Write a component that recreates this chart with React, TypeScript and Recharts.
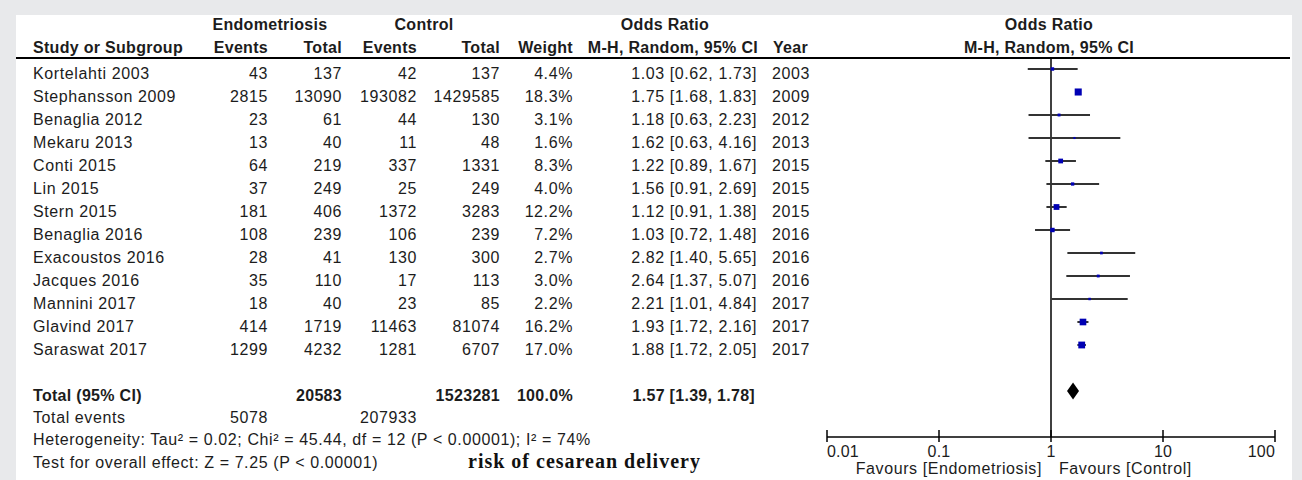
import React from 'react';
import {
  ScatterChart,
  Scatter,
  XAxis,
  YAxis,
  ErrorBar,
  ReferenceLine,
  ReferenceArea,
} from 'recharts';

if (typeof document !== 'undefined') {
  document.body.style.margin = '0';
  document.body.style.overflow = 'hidden';
}

const studies = [
  'Kortelahti 2003',
  'Stephansson 2009',
  'Benaglia 2012',
  'Mekaru 2013',
  'Conti 2015',
  'Lin 2015',
  'Stern 2015',
  'Benaglia 2016',
  'Exacoustos 2016',
  'Jacques 2016',
  'Mannini 2017',
  'Glavind 2017',
  'Saraswat 2017',
];
const endoEvents = [43, 2815, 23, 13, 64, 37, 181, 108, 28, 35, 18, 414, 1299];
const endoTotal = [137, 13090, 61, 40, 219, 249, 406, 239, 41, 110, 40, 1719, 4232];
const ctrlEvents = [42, 193082, 44, 11, 337, 25, 1372, 106, 130, 17, 23, 11463, 1281];
const ctrlTotal = [137, 1429585, 130, 48, 1331, 249, 3283, 239, 300, 113, 85, 81074, 6707];
const weights = [4.4, 18.3, 3.1, 1.6, 8.3, 4.0, 12.2, 7.2, 2.7, 3.0, 2.2, 16.2, 17.0];
const oddsRatio = [1.03, 1.75, 1.18, 1.62, 1.22, 1.56, 1.12, 1.03, 2.82, 2.64, 2.21, 1.93, 1.88];
const ciLow = [0.62, 1.68, 0.63, 0.63, 0.89, 0.91, 0.91, 0.72, 1.4, 1.37, 1.01, 1.72, 1.72];
const ciHigh = [1.73, 1.83, 2.23, 4.16, 1.67, 2.69, 1.38, 1.48, 5.65, 5.07, 4.84, 2.16, 2.05];
const years = [2003, 2009, 2012, 2013, 2015, 2015, 2015, 2016, 2016, 2016, 2017, 2017, 2017];

// pooled estimate: OR, lower, upper
const pooled = [1.57, 1.39, 1.78];
const totalParticipants = [20583, 1523281];
const totalEvents = [5078, 207933];
const xTicks = [0.01, 0.1, 1, 10, 100];

const TOTAL_ROW = 14;

const rows = studies.map((name, i) => ({
  name,
  row: i,
  or: oddsRatio[i],
  err: [oddsRatio[i] - ciLow[i], ciHigh[i] - oddsRatio[i]],
  weight: weights[i],
}));

const fmt = (v: number) => v.toFixed(2);

// text layout
const ROW_BASE = 78.5;
const ROW_H = 23;
const FONT = "'Liberation Sans', Arial, sans-serif";
const txt = { fontFamily: FONT, fontSize: 16, letterSpacing: 0.6, fill: '#1c1c1c' } as const;
const bold = { fontFamily: FONT, fontSize: 16, letterSpacing: 0.3, fontWeight: 700, fill: '#1c1c1c' } as const;

const Square = (props: any) => {
  const { cx, cy, payload } = props;
  const s = 1.65 * Math.sqrt(payload.weight);
  return <rect x={cx - s / 2} y={cy - s / 2} width={s} height={s} fill="#0000b4" />;
};

const Diamond = (props: any) => {
  const { x, y, width, height } = props;
  const pts = `${x},${y + height / 2} ${x + width / 2},${y} ${x + width},${y + height / 2} ${x + width / 2},${y + height}`;
  return <polygon points={pts} fill="#000" />;
};

const renderTick = (props: any) => {
  const { x, y, payload, index } = props;
  const anchor = index === 0 ? 'start' : index === xTicks.length - 1 ? 'end' : 'middle';
  return (
    <g>
      <line x1={x} x2={x} y1={y - 7} y2={y + 5} stroke="#000" strokeWidth={1.5} />
      <text x={x} y={y + 20} textAnchor={anchor} style={{ ...txt, letterSpacing: 0.2 }}>
        {String(payload.value)}
      </text>
    </g>
  );
};

const Table = () => {
  const y = (i: number) => ROW_BASE + ROW_H * i;
  return (
    <svg width={1302} height={480} style={{ position: 'absolute', left: 0, top: 0 }}>
      <rect x={0} y={0} width={1302} height={480} fill="#e8e9eb" />
      <rect x={16} y={15} width={1276} height={465} fill="#ffffff" />
      <line x1={16} x2={1290} y1={58} y2={58} stroke="#000" strokeWidth={2} />

      {/* header */}
      <text x={270} y={30} textAnchor="middle" style={bold}>Endometriosis</text>
      <text x={424} y={30} textAnchor="middle" style={bold}>Control</text>
      <text x={665} y={30} textAnchor="middle" style={bold}>Odds Ratio</text>
      <text x={1049} y={30} textAnchor="middle" style={bold}>Odds Ratio</text>
      <text x={33} y={53} style={bold}>Study or Subgroup</text>
      <text x={268} y={53} textAnchor="end" style={bold}>Events</text>
      <text x={342} y={53} textAnchor="end" style={bold}>Total</text>
      <text x={417} y={53} textAnchor="end" style={bold}>Events</text>
      <text x={500} y={53} textAnchor="end" style={bold}>Total</text>
      <text x={573} y={53} textAnchor="end" style={bold}>Weight</text>
      <text x={758} y={53} textAnchor="end" style={bold}>M-H, Random, 95% CI</text>
      <text x={773} y={53} style={bold}>Year</text>
      <text x={1049} y={53} textAnchor="middle" style={bold}>M-H, Random, 95% CI</text>

      {/* studies */}
      {studies.map((s, i) => (
        <g key={s}>
          <text x={33} y={y(i)} style={txt}>{s}</text>
          <text x={268} y={y(i)} textAnchor="end" style={txt}>{endoEvents[i]}</text>
          <text x={342} y={y(i)} textAnchor="end" style={txt}>{endoTotal[i]}</text>
          <text x={417} y={y(i)} textAnchor="end" style={txt}>{ctrlEvents[i]}</text>
          <text x={500} y={y(i)} textAnchor="end" style={txt}>{ctrlTotal[i]}</text>
          <text x={573} y={y(i)} textAnchor="end" style={txt}>{weights[i].toFixed(1)}%</text>
          <text x={757} y={y(i)} textAnchor="end" style={txt}>
            {`${fmt(oddsRatio[i])} [${fmt(ciLow[i])}, ${fmt(ciHigh[i])}]`}
          </text>
          <text x={772} y={y(i)} style={txt}>{years[i]}</text>
        </g>
      ))}

      {/* totals */}
      <text x={33} y={y(TOTAL_ROW)} style={bold}>Total (95% CI)</text>
      <text x={342} y={y(TOTAL_ROW)} textAnchor="end" style={bold}>{totalParticipants[0]}</text>
      <text x={500} y={y(TOTAL_ROW)} textAnchor="end" style={bold}>{totalParticipants[1]}</text>
      <text x={573} y={y(TOTAL_ROW)} textAnchor="end" style={bold}>100.0%</text>
      <text x={755} y={y(TOTAL_ROW)} textAnchor="end" style={bold}>
        {`${fmt(pooled[0])} [${fmt(pooled[1])}, ${fmt(pooled[2])}]`}
      </text>
      <text x={33} y={422.5} style={txt}>Total events</text>
      <text x={268} y={422.5} textAnchor="end" style={txt}>{totalEvents[0]}</text>
      <text x={417} y={422.5} textAnchor="end" style={txt}>{totalEvents[1]}</text>
      <text x={33} y={445} style={txt}>
        Heterogeneity: Tau² = 0.02; Chi² = 45.44, df = 12 (P &lt; 0.00001); I² = 74%
      </text>
      <text x={33} y={467.5} style={txt}>Test for overall effect: Z = 7.25 (P &lt; 0.00001)</text>
      <text
        x={468}
        y={468}
        style={{ fontFamily: "'Liberation Serif', 'Times New Roman', serif", fontSize: 20, fontWeight: 700, letterSpacing: 1, fill: '#111' }}
      >
        risk of cesarean delivery
      </text>

      {/* favours */}
      <text x={1042} y={474} textAnchor="end" style={txt}>Favours [Endometriosis]</text>
      <text x={1059} y={474} style={txt}>Favours [Control]</text>
    </svg>
  );
};

export default function App() {
  return (
    <div style={{ position: 'relative', width: 1302, height: 480, overflow: 'hidden' }}>
      <Table />
      <div style={{ position: 'absolute', left: 800, top: 40 }}>
        <ScatterChart width={500} height={440} margin={{ top: 17.5, right: 25, bottom: 3, left: 27 }}>
          <XAxis
            type="number"
            dataKey="or"
            scale="log"
            domain={[0.01, 100]}
            ticks={xTicks}
            allowDataOverflow
            height={40}
            tickSize={0}
            tickMargin={0}
            tickLine={false}
            axisLine={{ stroke: '#000', strokeWidth: 1.5 }}
            tick={renderTick}
            interval={0}
          />
          <YAxis type="number" dataKey="row" domain={[-0.5, 16]} reversed hide width={0} allowDataOverflow />
          <ReferenceLine x={1} stroke="#000" strokeWidth={1.5} />
          <Scatter data={rows} shape={() => <g />} isAnimationActive={false}>
            <ErrorBar dataKey="err" direction="x" width={0} stroke="#333" strokeWidth={2} isAnimationActive={false} />
          </Scatter>
          <Scatter data={rows} shape={Square} isAnimationActive={false} />
          <ReferenceArea
            x1={pooled[1]}
            x2={pooled[2]}
            y1={TOTAL_ROW - 0.37}
            y2={TOTAL_ROW + 0.37}
            shape={Diamond}
            ifOverflow="visible"
          />
        </ScatterChart>
      </div>
    </div>
  );
}
